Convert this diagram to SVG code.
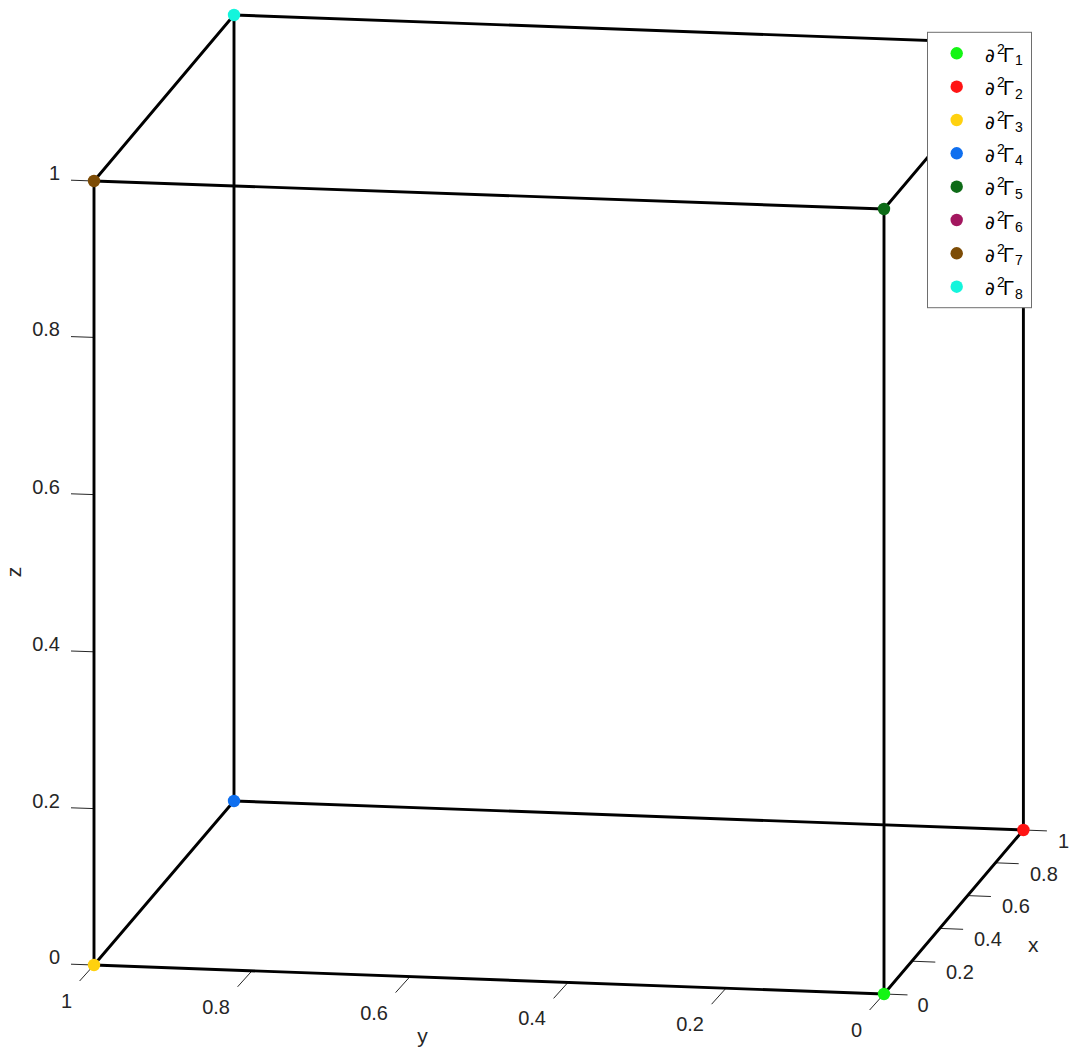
<svg xmlns="http://www.w3.org/2000/svg" width="1076" height="1061" viewBox="0 0 1076 1061">
<style>
.edge{stroke:#000;stroke-width:2.9;fill:none;stroke-linecap:round}
.tick{stroke:#262626;stroke-width:1;fill:none}
.tl{font-family:"Liberation Sans",Arial,sans-serif;font-size:20px;fill:#262626}
.lab{font-family:"Liberation Sans",Arial,sans-serif;font-size:21px;fill:#262626}
.lg{font-family:"Liberation Sans",Arial,sans-serif;font-size:20px;fill:#000}
.pd{font-family:"DejaVu Sans","Liberation Sans",sans-serif;font-size:19px}
.lgs{font-size:14px}
</style>
<rect width="1076" height="1061" fill="#fff"/>
<g id="axes">
  <g id="z-ticks">
    <path class="tick" d="M71 180.2L94 181M71 336.6L94 337.4M71 493.8L94 494.6M71 651L94 651.8M71 807.8L94 808.6M71 964.2L94 965"/>
    <text class="tl" text-anchor="end" x="60" y="180">1</text>
    <text class="tl" text-anchor="end" x="60" y="336">0.8</text>
    <text class="tl" text-anchor="end" x="60" y="494">0.6</text>
    <text class="tl" text-anchor="end" x="60" y="651">0.4</text>
    <text class="tl" text-anchor="end" x="60" y="808">0.2</text>
    <text class="tl" text-anchor="end" x="60" y="964">0</text>
    <text class="lab" text-anchor="middle" transform="translate(21,572) rotate(-90)">z</text>
  </g>
  <g id="y-ticks">
    <path class="tick" d="M94 965l-14.4 16M252 970.8l-14.4 16M410 976.6l-14.4 16M568 982.4l-14.4 16M726 988.2l-14.4 16M884 994l-14.4 16"/>
    <text class="tl" text-anchor="end" x="72" y="1008">1</text>
    <text class="tl" text-anchor="end" x="230" y="1013.8">0.8</text>
    <text class="tl" text-anchor="end" x="388" y="1019.6">0.6</text>
    <text class="tl" text-anchor="end" x="546" y="1025.4">0.4</text>
    <text class="tl" text-anchor="end" x="704" y="1031.2">0.2</text>
    <text class="tl" text-anchor="end" x="862" y="1037">0</text>
    <text class="lab" text-anchor="middle" x="422.5" y="1043">y</text>
  </g>
  <g id="x-ticks">
    <path class="tick" d="M884 994l23.5 0.9M911.8 961.2l23.5 0.9M939.6 928.4l23.5 0.9M967.4 895.6l23.5 0.9M995.2 862.8l23.5 0.9M1023.4 830l23.5 0.9"/>
    <text class="tl" x="917.5" y="1011.5">0</text>
    <text class="tl" x="946" y="978.8">0.2</text>
    <text class="tl" x="974" y="946.1">0.4</text>
    <text class="tl" x="1002" y="913.4">0.6</text>
    <text class="tl" x="1030" y="880.7">0.8</text>
    <text class="tl" x="1058" y="848">1</text>
    <text class="lab" text-anchor="middle" x="1033.3" y="951.7">x</text>
  </g>
</g>
<g id="connectors">
  <line class="edge" x1="884" y1="994" x2="1023.4" y2="830"/>
  <line class="edge" x1="884" y1="994" x2="94" y2="965"/>
  <line class="edge" x1="884" y1="994" x2="884" y2="209"/>
  <line class="edge" x1="1023.4" y1="830" x2="234" y2="801"/>
  <line class="edge" x1="1023.4" y1="830" x2="1023.4" y2="44"/>
  <line class="edge" x1="94" y1="965" x2="234" y2="801"/>
  <line class="edge" x1="94" y1="965" x2="94" y2="181"/>
  <line class="edge" x1="234" y1="801" x2="234" y2="15"/>
  <line class="edge" x1="884" y1="209" x2="1023.4" y2="44"/>
  <line class="edge" x1="884" y1="209" x2="94" y2="181"/>
  <line class="edge" x1="1023.4" y1="44" x2="234" y2="15"/>
  <line class="edge" x1="94" y1="181" x2="234" y2="15"/>
</g>
<g id="n1"><circle cx="884" cy="994" r="6.2" fill="#14f514"/></g>
<g id="n2"><circle cx="1023.4" cy="830" r="6.2" fill="#ff1414"/></g>
<g id="n3"><circle cx="94" cy="965" r="6.2" fill="#ffd10f"/></g>
<g id="n4"><circle cx="234" cy="801" r="6.2" fill="#0f6fef"/></g>
<g id="n5"><circle cx="884" cy="209" r="6.2" fill="#0d6b17"/></g>
<g id="n6"><circle cx="1023.4" cy="44" r="6.2" fill="#a3175f"/></g>
<g id="n7"><circle cx="94" cy="181" r="6.2" fill="#7d4c06"/></g>
<g id="n8"><circle cx="234" cy="15" r="6.2" fill="#14f5dc"/></g>
<g id="legend">
  <rect x="927.5" y="32.3" width="104" height="275.4" fill="#fff" stroke="#6e6e6e" stroke-width="1"/>
  <circle cx="956.7" cy="53.3" r="6.2" fill="#14f514"/>
  <circle cx="956.7" cy="86.7" r="6.2" fill="#ff1414"/>
  <circle cx="956.7" cy="120" r="6.2" fill="#ffd10f"/>
  <circle cx="956.7" cy="153.3" r="6.2" fill="#0f6fef"/>
  <circle cx="956.7" cy="186.7" r="6.2" fill="#0d6b17"/>
  <circle cx="956.7" cy="220" r="6.2" fill="#a3175f"/>
  <circle cx="956.7" cy="253.3" r="6.2" fill="#7d4c06"/>
  <circle cx="956.7" cy="286.7" r="6.2" fill="#14f5dc"/>
  <text class="lg" x="985" y="61.8"><tspan class="pd">∂</tspan><tspan class="lgs" x="997" dy="-8">2</tspan><tspan x="1003" dy="8">Γ</tspan><tspan class="lgs" x="1015" dy="3.5">1</tspan></text>
  <text class="lg" x="985" y="95.2"><tspan class="pd">∂</tspan><tspan class="lgs" x="997" dy="-8">2</tspan><tspan x="1003" dy="8">Γ</tspan><tspan class="lgs" x="1015" dy="3.5">2</tspan></text>
  <text class="lg" x="985" y="128.5"><tspan class="pd">∂</tspan><tspan class="lgs" x="997" dy="-8">2</tspan><tspan x="1003" dy="8">Γ</tspan><tspan class="lgs" x="1015" dy="3.5">3</tspan></text>
  <text class="lg" x="985" y="161.8"><tspan class="pd">∂</tspan><tspan class="lgs" x="997" dy="-8">2</tspan><tspan x="1003" dy="8">Γ</tspan><tspan class="lgs" x="1015" dy="3.5">4</tspan></text>
  <text class="lg" x="985" y="195.2"><tspan class="pd">∂</tspan><tspan class="lgs" x="997" dy="-8">2</tspan><tspan x="1003" dy="8">Γ</tspan><tspan class="lgs" x="1015" dy="3.5">5</tspan></text>
  <text class="lg" x="985" y="228.5"><tspan class="pd">∂</tspan><tspan class="lgs" x="997" dy="-8">2</tspan><tspan x="1003" dy="8">Γ</tspan><tspan class="lgs" x="1015" dy="3.5">6</tspan></text>
  <text class="lg" x="985" y="261.8"><tspan class="pd">∂</tspan><tspan class="lgs" x="997" dy="-8">2</tspan><tspan x="1003" dy="8">Γ</tspan><tspan class="lgs" x="1015" dy="3.5">7</tspan></text>
  <text class="lg" x="985" y="295.2"><tspan class="pd">∂</tspan><tspan class="lgs" x="997" dy="-8">2</tspan><tspan x="1003" dy="8">Γ</tspan><tspan class="lgs" x="1015" dy="3.5">8</tspan></text>
</g>
</svg>
